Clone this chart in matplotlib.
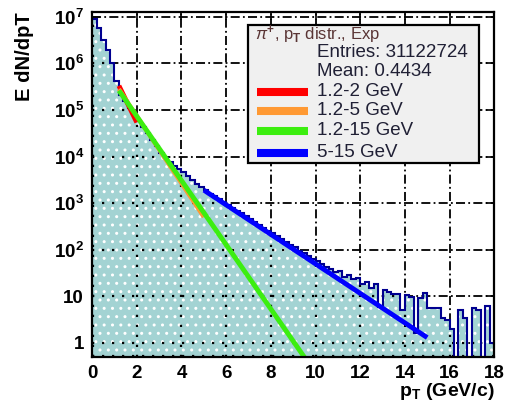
import numpy as np
import matplotlib
matplotlib.use("Agg")
from matplotlib import pyplot as plt
from matplotlib.patches import Polygon, Rectangle
from matplotlib.lines import Line2D

plt.rcParams['font.family'] = ['Liberation Sans', 'DejaVu Sans']
plt.rcParams['mathtext.fontset'] = 'custom'
plt.rcParams['mathtext.rm'] = 'Liberation Sans:bold'
plt.rcParams['mathtext.it'] = 'Liberation Sans:italic'
plt.rcParams['mathtext.bf'] = 'Liberation Sans:bold'
plt.rcParams['hatch.color'] = 'white'
plt.rcParams['hatch.linewidth'] = 1.0

# pi+ pT spectrum, 0.2 GeV bins from 0 to 18
bin_w = 0.2
counts = [8.9e6, 5.6e6, 3.2e6, 1.9e6, 1.0e6, 4.2e5, 2.1e5, 1.55e5, 1.1e5, 8.1e4,
          5.9e4, 4.3e4, 3.2e4, 2.3e4, 1.66e4, 1.2e4, 9.1e3, 7.6e3, 6.3e3, 5.4e3,
          4.6e3, 3.8e3, 3.2e3, 2.6e3, 2.2e3, 1.9e3, 1.6e3, 1.4e3, 1.2e3, 1.05e3,
          910, 790, 690, 600, 525, 457, 389, 339, 295, 257,
          224, 200, 170, 148, 126, 112, 95, 85, 74, 63,
          58, 50, 42, 38, 33, 35, 26, 28, 23, 25,
          18, 20, 15, 18, 6, 14, 12.6, 11, 11, 5.2,
          10.5, 9.5, 1.6, 9, 11.7, 5.6, 5.6, 5.6, 3.5, 3.1,
          2.0, 0, 5.0, 3.5, 0, 5.6, 5.2, 0, 6.3, 1.0]
edges = np.arange(len(counts) + 1) * bin_w

# exponential fits (end points)
fit_labels = ['1.2-2 GeV', '1.2-5 GeV', '1.2-15 GeV', '5-15 GeV']
fit_colors = ['#ff0000', '#ff9933', '#3cee10', '#0000ff']
fit_x = [[1.2, 2.0], [1.2, 5.0], [1.2, 15.0], [5.0, 15.0]]
fit_y = [[3.3e5, 5.4e4], [2.8e5, 5.0e2], [2.6e5, 8e-5], [1.9e3, 1.3]]

stats = ['Entries: 31122724', 'Mean: 0.4434']
title = r'$\pi^{+}$, p$_{\mathrm{T}}$ distr., Exp'

ymin, ymax = 0.5, 1.25e7

fig = plt.figure(figsize=(5.09, 4.07), dpi=100)
ax = fig.add_axes([0.181, 0.123, 0.79, 0.847])
ax.set_yscale('log')
ax.set_xlim(0, 18)
ax.set_ylim(ymin, ymax)

vals = np.maximum(np.array(counts, dtype=float), 0.3)
xs = np.repeat(edges, 2)[1:-1]
ys = np.repeat(vals, 2)

# filled histogram with dotted pattern
ax.fill_between(xs, ys, 0.3, facecolor='#a3d3d3', edgecolor='white',
                hatch='..', linewidth=0, zorder=1)
verts = np.column_stack([np.r_[xs, xs[-1], xs[0]], np.r_[ys, 0.3, 0.3]])
clip = Polygon(verts, closed=True, transform=ax.transData, visible=False)
ax.add_patch(clip)

# grid: dash-dot outside, dots inside histogram
xt = np.arange(0, 19, 2)
yt = [1, 10, 1e2, 1e3, 1e4, 1e5, 1e6, 1e7]
ax.set_xticks(xt)
ax.set_yticks(yt)
ax.set_yticklabels(['1', '10', '$10^{2}$', '$10^{3}$', '$10^{4}$',
                    '$10^{5}$', '$10^{6}$', '$10^{7}$'])
ax.minorticks_off()
ax.grid(True, color='black', lw=1.3, ls=(0, (5, 1.8, 1, 1.8)))
ax.set_axisbelow(True)
for x in list(xt[:-1]) + [0.05]:
    l = ax.axvline(x, color='black', lw=1.6, ls=(0, (1, 3.5)), zorder=1.5)
    l.set_clip_path(clip)
for y in yt + [0.52]:
    l = ax.axhline(y, color='black', lw=1.6, ls=(0, (1, 3.5)), zorder=1.5)
    l.set_clip_path(clip)

ax.stairs(vals, edges, color='#000090', lw=1.5, zorder=2, baseline=None)

for i, (fx_, fy_, c) in enumerate(zip(fit_x, fit_y, fit_colors)):
    z = {0: 3, 1: 3, 2: 3.2, 3: 3.1}[i]
    ax.plot(fx_, fy_, color=c, lw=3.0 if i == 1 else 3.5, zorder=z,
            solid_capstyle='butt')

for s in ax.spines.values():
    s.set_linewidth(1.6)
    s.set_zorder(5)
ax.tick_params(direction='in', length=6, width=1.2, top=True, right=True,
               labelsize=13.5, pad=6)
for t in ax.get_xticklabels() + ax.get_yticklabels():
    t.set_fontweight('bold')

ax.set_ylabel('E dN/dpT', fontsize=14.5, fontweight='bold', loc='top', labelpad=14)
ax.set_xlabel(r'p$_{\mathrm{T}}$ (GeV/c)', fontsize=14, fontweight='bold',
              loc='right', labelpad=-1)

# stats / legend box, laid out in figure pixels
W, H = 509.0, 407.0
def fx(px):
    return px / W
def fy(py):
    return 1 - py / H

fig.patches.append(Rectangle((fx(248), fy(163)), fx(479) - fx(248), fy(25) - fy(163),
                             transform=fig.transFigure, facecolor='#f0f0f0',
                             edgecolor='black', lw=1.6, zorder=6))
fig.text(fx(255), fy(40), title, fontsize=12, color='#5a3535', va='baseline',
         zorder=7)
rows_y = [50, 69, 89, 108, 128, 150]
for lab, ry in zip(stats + fit_labels, rows_y):
    fig.text(fx(317), fy(ry + 7), lab, fontsize=13.5, color='#202035',
             va='baseline', zorder=7)
for c, ry in zip(fit_colors, rows_y[2:]):
    fig.add_artist(Line2D([fx(257), fx(308)], [fy(ry + 3), fy(ry + 3)],
                          transform=fig.transFigure, color=c, lw=5.8,
                          solid_capstyle='butt', zorder=7))

fig.savefig('out.png', dpi=100)
